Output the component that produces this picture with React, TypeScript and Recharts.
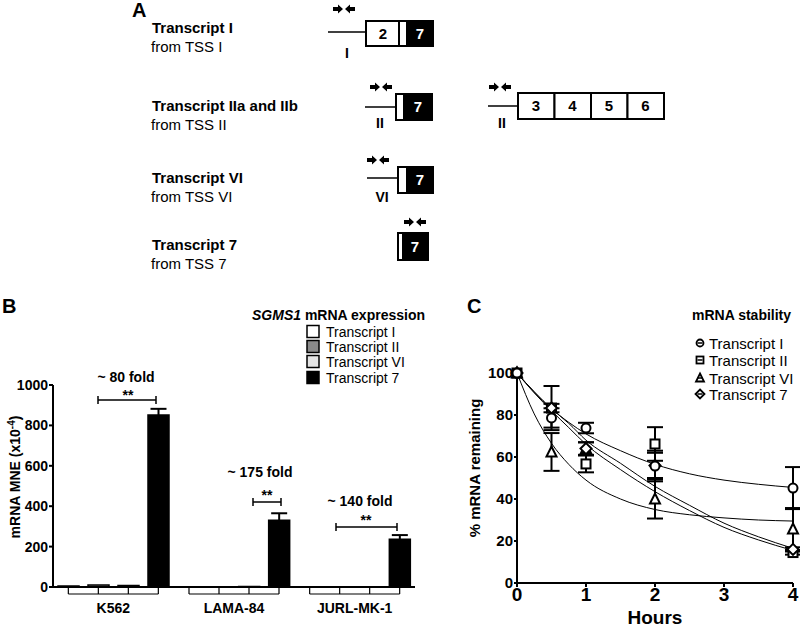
import React from 'react'
import { BarChart, Bar, XAxis, YAxis, ErrorBar, ComposedChart, Line, Scatter } from 'recharts'

// panel B: SGMS1 mRNA expression (x10^-4)
const cellLines = ['K562', 'LAMA-84', 'JURL-MK-1']
const transcriptI = [5, 1, 1]
const transcriptII = [10, 1, 1]
const transcriptVI = [8, 2, 1]
const transcript7 = [852, 330, 237]
const transcript7Err = [30, 35, 20]
const barTicks = [0, 200, 400, 600, 800, 1000]
const foldLabels = ['~ 80 fold', '~ 175 fold', '~ 140 fold']

// panel C: mRNA stability (% remaining)
const hours = [0, 0.5, 1, 2, 4]
const stabI = [100, 78.6, 73.8, 55.7, 45.2]
const stabIErr = [0, 4.6, 2.5, 7.3, 10]
const stabII = [100, 83.3, 56.7, 66.2, 14.5]
const stabIIErr = [0, 2, 4, 8, 1]
const stabVI = [100, 62.4, 64, 40, 25.7]
const stabVIErr = [0, 9, 3, 9.3, 10]
const stab7 = [100, 83.3, 64, 56, 16]
const stab7Err = [0, 10.5, 3, 6, 1]

// fitted decay curves
const fitHours = [0, 0.25, 0.5, 0.75, 1, 1.5, 2, 2.5, 3, 3.5, 4]
const fitI = [100, 91, 83, 76.5, 71, 63, 56.5, 52, 49, 47, 45.5]
const fitII = [100, 90.5, 82, 74, 66, 54, 43.5, 34.5, 26.5, 20.5, 15.5]
const fitVI = [100, 80.5, 66.5, 56.5, 49, 40, 35, 32.5, 31, 30, 29.5]
const fit7 = [100, 91, 83, 76, 68, 57, 46, 37, 28.5, 22, 16.5]
const hourTicks = [0, 1, 2, 3, 4]
const pctTicks = [0, 20, 40, 60, 80, 100]

const barSeries = [
  { key: 't1', name: 'Transcript I', fill: '#ffffff' },
  { key: 't2', name: 'Transcript II', fill: '#8a8a8a' },
  { key: 't6', name: 'Transcript VI', fill: '#e4e4e4' },
  { key: 't7', name: 'Transcript 7', fill: '#000000' },
]

const barData = cellLines.map((name, i) => ({
  name,
  t1: transcriptI[i],
  t2: transcriptII[i],
  t6: transcriptVI[i],
  t7: transcript7[i],
  t7Err: transcript7Err[i],
}))

const toPoints = (ys: number[], errs: number[]) => hours.map((h, i) => ({ h, v: ys[i], e: errs[i] }))
const toFit = (ys: number[]) => fitHours.map((h, i) => ({ h, v: ys[i] }))

const stabSeries = [
  { name: 'Transcript I', kind: 'circle', points: toPoints(stabI, stabIErr), fit: toFit(fitI) },
  { name: 'Transcript II', kind: 'square', points: toPoints(stabII, stabIIErr), fit: toFit(fitII) },
  { name: 'Transcript VI', kind: 'triangle', points: toPoints(stabVI, stabVIErr), fit: toFit(fitVI) },
  { name: 'Transcript 7', kind: 'diamond', points: toPoints(stab7, stab7Err), fit: toFit(fit7) },
]
// drawing order of the markers (last one ends up on top)
const markerOrder = [2, 1, 3, 0]

const FONT = '"Liberation Sans", Arial, Helvetica, sans-serif'

function Marker({ kind, cx, cy, r = 4.5, bar = false, sw = 2 }: any) {
  const st = { fill: '#fff', stroke: '#000', strokeWidth: sw }
  let shape
  if (kind === 'circle') shape = <circle cx={cx} cy={cy} r={r} {...st} />
  else if (kind === 'square') shape = <rect x={cx - r} y={cy - r} width={2 * r} height={2 * r} {...st} />
  else if (kind === 'triangle')
    shape = <polygon points={`${cx},${cy - r - 1} ${cx + r + 0.5},${cy + r} ${cx - r - 0.5},${cy + r}`} {...st} />
  else shape = <polygon points={`${cx},${cy - r - 1} ${cx + r + 1},${cy} ${cx},${cy + r + 1} ${cx - r - 1},${cy}`} {...st} />
  return (
    <g>
      {shape}
      {bar && <line x1={cx - r + 1} x2={cx + r - 1} y1={cy} y2={cy} stroke="#000" strokeWidth={1.5} />}
    </g>
  )
}

// bracket under each cell line, ticks at the bar centres
function CellTick({ x, y, payload }: any) {
  const offs = [-45, -15, 15, 45]
  return (
    <g>
      {offs.map((o) => (
        <line key={o} x1={x + o} x2={x + o} y1={y} y2={y + 7} stroke="#000" strokeWidth={1.2} />
      ))}
      <line x1={x - 45} x2={x + 45} y1={y + 7} y2={y + 7} stroke="#000" strokeWidth={1.2} />
      <text x={x} y={y + 26} textAnchor="middle" fontWeight="bold" fontSize={14} fill="#000">
        {payload.value}
      </text>
    </g>
  )
}

function Primers({ cx, cy }: { cx: number; cy: number }) {
  const right = `M${cx - 11},${cy - 2} L${cx - 6},${cy - 2} L${cx - 6},${cy - 4.5} L${cx - 1},${cy} L${cx - 6},${cy + 4.5} L${cx - 6},${cy + 2} L${cx - 11},${cy + 2} Z`
  const left = `M${cx + 11},${cy - 2} L${cx + 6},${cy - 2} L${cx + 6},${cy - 4.5} L${cx + 1},${cy} L${cx + 6},${cy + 4.5} L${cx + 6},${cy + 2} L${cx + 11},${cy + 2} Z`
  return (
    <g fill="#000">
      <path d={right} />
      <path d={left} />
    </g>
  )
}

function SigBracket({ x1, x2, y, label, stars, labelX, starX, labelY, starY }: any) {
  return (
    <g>
      <line x1={x1} x2={x2} y1={y} y2={y} stroke="#000" strokeWidth={1.5} />
      <line x1={x1} x2={x1} y1={y - 4} y2={y + 4} stroke="#000" strokeWidth={1.5} />
      <line x1={x2} x2={x2} y1={y - 4} y2={y + 4} stroke="#000" strokeWidth={1.5} />
      <text x={labelX} y={labelY} textAnchor="middle" fontWeight="bold" fontSize={14}>{label}</text>
      <text x={starX} y={starY} textAnchor="middle" fontWeight="bold" fontSize={14}>{stars}</text>
    </g>
  )
}

function PanelA() {
  const bold = { fontWeight: 'bold' as const, fontSize: 15 }
  const reg = { fontSize: 15 }
  return (
    <g>
      <text x={132} y={17} fontWeight="bold" fontSize={20}>A</text>

      <text x={152} y={33} {...bold}>Transcript I</text>
      <text x={151} y={52} {...reg}>from TSS I</text>
      <Primers cx={344} cy={9} />
      <line x1={328} x2={366} y1={32} y2={32} stroke="#000" strokeWidth={1.5} />
      <rect x={366} y={21} width={67} height={25} fill="#fff" stroke="#000" strokeWidth={2} />
      <rect x={407} y={21} width={26} height={25} fill="#000" stroke="#000" strokeWidth={2} />
      <line x1={399} x2={399} y1={21} y2={46} stroke="#000" strokeWidth={2} />
      <text x={383} y={39} textAnchor="middle" {...bold}>2</text>
      <text x={420} y={39} textAnchor="middle" fill="#fff" {...bold}>7</text>
      <text x={347} y={58} textAnchor="middle" fontWeight="bold" fontSize={14}>I</text>

      <text x={152} y={111} {...bold}>Transcript IIa and IIb</text>
      <text x={151} y={130} {...reg}>from TSS II</text>
      <Primers cx={381} cy={87} />
      <line x1={365} x2={396} y1={107} y2={107} stroke="#000" strokeWidth={1.5} />
      <rect x={396} y={94} width={36} height={26} fill="#fff" stroke="#000" strokeWidth={2} />
      <rect x={404} y={94} width={28} height={26} fill="#000" stroke="#000" strokeWidth={2} />
      <text x={418} y={112} textAnchor="middle" fill="#fff" {...bold}>7</text>
      <text x={380} y={128} textAnchor="middle" fontWeight="bold" fontSize={14}>II</text>

      <Primers cx={500} cy={87} />
      <line x1={488} x2={518} y1={106} y2={106} stroke="#000" strokeWidth={1.5} />
      {['3', '4', '5', '6'].map((n, i) => (
        <g key={n}>
          <rect x={518 + i * 36.5} y={93} width={36.5} height={26} fill="#fff" stroke="#000" strokeWidth={2} />
          <text x={536 + i * 36.5} y={111} textAnchor="middle" {...bold}>{n}</text>
        </g>
      ))}
      <text x={502} y={128} textAnchor="middle" fontWeight="bold" fontSize={14}>II</text>

      <text x={152} y={183} {...bold}>Transcript VI</text>
      <text x={151} y={202} {...reg}>from TSS VI</text>
      <Primers cx={378} cy={160} />
      <line x1={367} x2={398} y1={178} y2={178} stroke="#000" strokeWidth={1.5} />
      <rect x={398} y={167} width={35} height={26} fill="#fff" stroke="#000" strokeWidth={2} />
      <rect x={407} y={167} width={26} height={26} fill="#000" stroke="#000" strokeWidth={2} />
      <text x={420} y={185} textAnchor="middle" fill="#fff" {...bold}>7</text>
      <text x={382} y={202} textAnchor="middle" fontWeight="bold" fontSize={14}>VI</text>

      <text x={152} y={250} {...bold}>Transcript 7</text>
      <text x={151} y={269} {...reg}>from TSS 7</text>
      <Primers cx={415} cy={222} />
      <rect x={398} y={233} width={30} height={27} fill="#fff" stroke="#000" strokeWidth={2} />
      <rect x={403} y={233} width={25} height={27} fill="#000" stroke="#000" strokeWidth={2} />
      <text x={415} y={252} textAnchor="middle" fill="#fff" {...bold}>7</text>
    </g>
  )
}

export default function App() {
  return (
    <div style={{ position: 'absolute', left: 0, top: 0, width: 800, height: 629, background: '#fff', fontFamily: FONT, overflow: 'hidden' }}>
      <div style={{ position: 'absolute', left: 0, top: 360 }}>
        <BarChart width={430} height={269} data={barData} margin={{ top: 25, right: 15, bottom: 0, left: 0 }} barSize={21} barGap={9}>
          <XAxis
            dataKey="name"
            height={42}
            axisLine={{ stroke: '#000', strokeWidth: 2 }}
            tickLine={false}
            tickSize={0}
            tickMargin={0}
            interval={0}
            tick={<CellTick />}
          />
          <YAxis
            width={53}
            domain={[0, 1000]}
            ticks={barTicks}
            interval={0}
            axisLine={{ stroke: '#000', strokeWidth: 2 }}
            tickLine={{ stroke: '#000', strokeWidth: 2 }}
            tickSize={4}
            tickMargin={1}
            tick={{ fontSize: 14, fontWeight: 'bold', fill: '#000' }}
          />
          {barSeries.map((s) => (
            <Bar key={s.key} dataKey={s.key} name={s.name} fill={s.fill} stroke="#000" strokeWidth={1.5} isAnimationActive={false}>
              {s.key === 't7' && <ErrorBar dataKey="t7Err" width={8} stroke="#000" strokeWidth={2} direction="y" />}
            </Bar>
          ))}
        </BarChart>
      </div>

      <div style={{ position: 'absolute', left: 430, top: 340 }}>
        <ComposedChart width={370} height={289} margin={{ top: 33, right: 7, bottom: 0, left: 0 }}>
          <XAxis
            type="number"
            dataKey="h"
            domain={[0, 4]}
            ticks={hourTicks}
            interval={0}
            height={46}
            axisLine={{ stroke: '#000', strokeWidth: 2 }}
            tickLine={{ stroke: '#000', strokeWidth: 2 }}
            tickSize={4}
            tickMargin={1}
            tick={{ fontSize: 19, fontWeight: 'bold', fill: '#000' }}
          />
          <YAxis
            type="number"
            width={87}
            domain={[0, 100]}
            ticks={pctTicks}
            interval={0}
            axisLine={{ stroke: '#000', strokeWidth: 2 }}
            tickLine={{ stroke: '#000', strokeWidth: 2 }}
            tickSize={3}
            tickMargin={1}
            tick={{ fontSize: 15, fontWeight: 'bold', fill: '#000' }}
          />
          {stabSeries.map((s) => (
            <Line
              key={'fit' + s.name}
              data={s.fit}
              dataKey="v"
              type="monotone"
              stroke="#000"
              strokeWidth={1}
              dot={false}
              activeDot={false}
              isAnimationActive={false}
            />
          ))}
          {/* error bars first, so the markers sit on top of them */}
          {stabSeries.map((s) => (
            <Scatter
              key={'err' + s.name}
              data={s.points}
              dataKey="v"
              isAnimationActive={false}
              shape={() => <g />}
            >
              <ErrorBar dataKey="e" direction="y" width={8} stroke="#000" strokeWidth={2} />
            </Scatter>
          ))}
          {markerOrder.map((idx) => {
            const s = stabSeries[idx]
            return (
              <Scatter
                key={'pts' + s.name}
                name={s.name}
                data={s.points}
                dataKey="v"
                isAnimationActive={false}
                shape={(p: any) => <Marker kind={s.kind} cx={p.cx} cy={p.cy} />}
              />
            )
          })}
        </ComposedChart>
      </div>

      <svg width={800} height={629} style={{ position: 'absolute', left: 0, top: 0, pointerEvents: 'none', fontFamily: FONT }}>
        <PanelA />

        {/* panel B */}
        <text x={2} y={313} fontWeight="bold" fontSize={20}>B</text>
        <text transform="translate(20,477) rotate(-90)" textAnchor="middle" fontWeight="bold" fontSize={14}>
          mRNA MNE (x10<tspan dy={-5} fontSize={10}>-4</tspan><tspan dy={5}>)</tspan>
        </text>
        <text x={252} y={320} fontWeight="bold" fontSize={14}>
          <tspan fontStyle="italic">SGMS1</tspan> mRNA expression
        </text>
        {barSeries.map((s, i) => {
          const cy = [332, 347, 362, 378][i]
          return (
            <g key={s.key}>
              <rect x={307} y={cy - 6.5} width={12} height={12} fill={s.fill} stroke="#000" strokeWidth={1.5} />
              <text x={326} y={cy + 5} fontSize={14}>{s.name}</text>
            </g>
          )
        })}
        <SigBracket x1={98} x2={156} y={400} label={foldLabels[0]} stars="**" labelX={126} labelY={382} starX={128} starY={400} />
        <SigBracket x1={253} x2={281} y={502} label={foldLabels[1]} stars="**" labelX={260} labelY={477} starX={267} starY={500} />
        <SigBracket x1={336} x2={397} y={527} label={foldLabels[2]} stars="**" labelX={360} labelY={506} starX={366} starY={525} />

        {/* panel C */}
        <text x={467} y={313} fontWeight="bold" fontSize={20}>C</text>
        <text transform="translate(480,468) rotate(-90)" textAnchor="middle" fontWeight="bold" fontSize={15}>
          % mRNA remaining
        </text>
        <text x={655} y={624} textAnchor="middle" fontWeight="bold" fontSize={19}>Hours</text>
        <text x={692} y={320} fontWeight="bold" fontSize={14}>mRNA stability</text>
        {stabSeries.map((s, i) => {
          const cy = [343, 360, 378, 394][i]
          return (
            <g key={s.name}>
              <Marker kind={s.kind} cx={700} cy={cy} r={3.5} bar sw={1.8} />
              <text x={709} y={cy + 5.5} fontSize={15}>{s.name}</text>
            </g>
          )
        })}
      </svg>
    </div>
  )
}
